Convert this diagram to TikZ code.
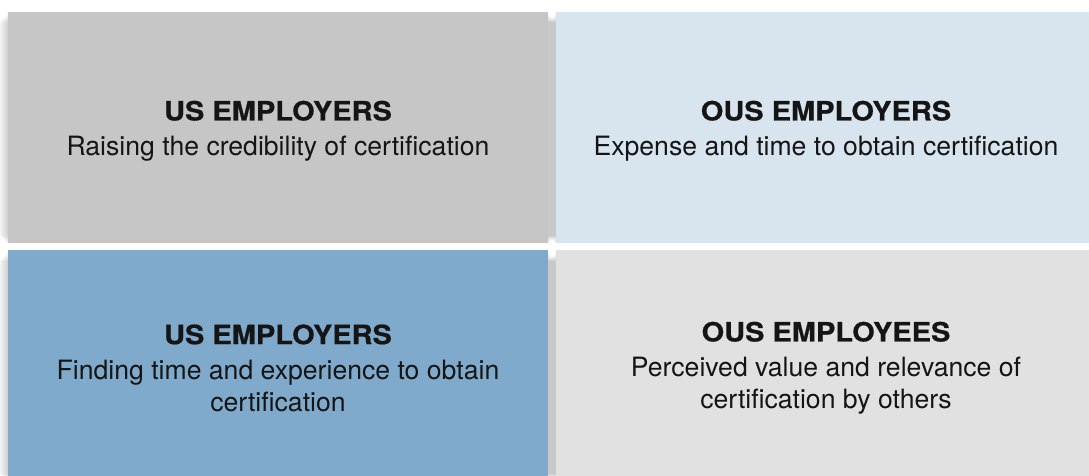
\documentclass[tikz,border=0pt]{standalone}
\usepackage{fontspec}
\setmainfont{TeX Gyre Heros}
\newfontfamily\heavy{TeX Gyre Heros}[FakeStretch=1.09,FakeBold=0.6]
\definecolor{boxA}{HTML}{C6C6C6}
\definecolor{boxB}{HTML}{D8E4EE}
\definecolor{boxC}{HTML}{80AACB}
\definecolor{boxD}{HTML}{E1E1E1}
\definecolor{ink}{HTML}{151515}
\tikzset{
  quad/.style={text=ink, align=center, font=\fontsize{26.6}{32}\selectfont},
}
\newcommand{\hd}[1]{{\heavy\bfseries\fontsize{26.6}{32}\selectfont #1}}
\newcommand{\softshadow}[4]{%
  \foreach \k in {1,...,9}{%
    \fill[black, opacity=0.02] ([xshift=-\k pt, yshift=-\k pt-1.5pt]#1,#2) rectangle ([xshift=\k pt, yshift=\k pt-1.5pt]#3,#4);
  }%
}
\begin{document}
\begin{tikzpicture}[x=1pt,y=-1pt]
\useasboundingbox (0,0) rectangle (1089,476);
\fill[white] (0,0) rectangle (1089,476);
% shadows
\softshadow{8}{12}{548}{243}
\softshadow{556}{12}{1096}{243}
\softshadow{8}{250}{548}{481}
\softshadow{556}{250}{1096}{481}
% boxes
\fill[boxA] (8,12) rectangle (548,243);
\fill[boxB] (556,12) rectangle (1096,243);
\fill[boxC] (8,250) rectangle (548,481);
\fill[boxD] (556,250) rectangle (1096,481);
% texts
\node[quad] (ta) at (278,131) {\hd{US EMPLOYERS}\\[3pt]Raising the credibility of certification};
\node[quad] (tb) at (826,131) {\hd{OUS EMPLOYERS}\\[3pt]Expense and time to obtain certification};
\node[quad] (tc) at (278,368) {\hd{US EMPLOYERS}\\[3pt]Finding time and experience to obtain\\certification};
\node[quad] (td) at (826,368) {\hd{OUS EMPLOYEES}\\[3pt]Perceived value and relevance of\\certification by others};
\end{tikzpicture}
\end{document}
